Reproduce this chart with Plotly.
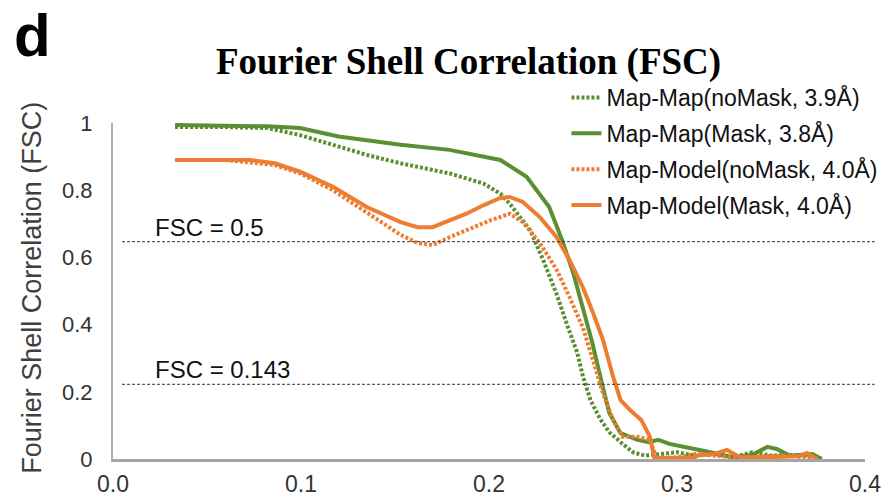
import plotly.graph_objects as go

# Spatial frequency (1/Å) and FSC values for each curve
mapmap_nomask_x = [0.033, 0.06, 0.082, 0.0995, 0.117, 0.135, 0.153, 0.170, 0.179, 0.197,
                   0.206, 0.211, 0.222, 0.229, 0.236, 0.2415, 0.247, 0.250, 0.254, 0.259,
                   0.264, 0.270, 0.2766, 0.283, 0.29, 0.30, 0.31, 0.32, 0.33, 0.34, 0.35,
                   0.36, 0.37, 0.377]
mapmap_nomask_y = [0.988, 0.988, 0.985, 0.964, 0.935, 0.905, 0.88, 0.86, 0.85, 0.82,
                   0.79, 0.76, 0.68, 0.59, 0.49, 0.40, 0.315, 0.245, 0.175, 0.12,
                   0.08, 0.05, 0.02, 0.01, 0.015, 0.02, 0.01, 0.015, 0.005, 0.02, 0.01,
                   0.012, 0.01, 0.0]

mapmap_mask_x = [0.033, 0.06, 0.082, 0.0995, 0.12, 0.153, 0.179, 0.206, 0.220, 0.232,
                 0.239, 0.245, 0.250, 0.255, 0.260, 0.264, 0.270, 0.279, 0.285, 0.290,
                 0.296, 0.303, 0.312, 0.322, 0.330, 0.340, 0.348, 0.353, 0.360, 0.365,
                 0.372, 0.377]
mapmap_mask_y = [0.994, 0.993, 0.99, 0.985, 0.96, 0.935, 0.92, 0.89, 0.84, 0.75,
                 0.65, 0.55, 0.45, 0.345, 0.226, 0.137, 0.077, 0.057, 0.05, 0.057,
                 0.045, 0.036, 0.027, 0.015, 0.005, 0.012, 0.036, 0.03, 0.01, 0.012,
                 0.015, 0.0]

mapmodel_nomask_x = [0.033, 0.06, 0.086, 0.0995, 0.117, 0.135, 0.153, 0.162, 0.170, 0.179,
                     0.190, 0.2005, 0.211, 0.218, 0.227, 0.236, 0.243, 0.250, 0.255, 0.2606,
                     0.266, 0.271, 0.279, 0.2856, 0.289, 0.30, 0.31, 0.32, 0.33, 0.34,
                     0.35, 0.36, 0.375]
mapmodel_nomask_y = [0.89, 0.89, 0.875, 0.85, 0.80, 0.735, 0.667, 0.643, 0.637, 0.66,
                     0.687, 0.71, 0.73, 0.705, 0.643, 0.563, 0.48, 0.39, 0.30, 0.196,
                     0.116, 0.066, 0.066, 0.057, 0.003, 0.005, 0.015, 0.01, 0.005, 0.005,
                     0.01, 0.01, 0.0]

mapmodel_mask_x = [0.033, 0.06, 0.073, 0.086, 0.0995, 0.117, 0.135, 0.153, 0.162, 0.170,
                   0.179, 0.188, 0.197, 0.206, 0.211, 0.218, 0.227, 0.236, 0.243, 0.250,
                   0.255, 0.2606, 0.266, 0.270, 0.275, 0.281, 0.2856, 0.288, 0.30, 0.3085,
                   0.312, 0.32, 0.3266, 0.3335, 0.348, 0.36, 0.365, 0.369, 0.3745]
mapmodel_mask_y = [0.89, 0.89, 0.89, 0.88, 0.855, 0.81, 0.75, 0.705, 0.69, 0.69,
                   0.71, 0.73, 0.755, 0.777, 0.78, 0.765, 0.72, 0.66, 0.59, 0.51,
                   0.44, 0.355, 0.245, 0.175, 0.146, 0.116, 0.066, 0.003, 0.003, 0.003,
                   0.012, 0.015, 0.027, 0.005, 0.005, 0.008, 0.008, 0.018, 0.0]

series_names = ["Map-Map(noMask, 3.9Å)", "Map-Map(Mask, 3.8Å)",
                "Map-Model(noMask, 4.0Å)", "Map-Model(Mask, 4.0Å)"]

# Threshold criteria and their labels
threshold_values = [0.5, 0.143]
threshold_labels = ["FSC = 0.5", "FSC = 0.143"]

x_tick_vals = [0.0, 0.1, 0.2, 0.3, 0.4]
x_tick_text = ["0.0", "0.1", "0.2", "0.3", "0.4"]
y_tick_vals = [0, 0.2, 0.4, 0.6, 0.8, 1.0]
y_tick_text = ["0", "0.2", "0.4", "0.6", "0.8", "1"]

GREEN = "#5b8f33"
ORANGE = "#ed7d31"
SANS = "Liberation Sans, Arial, sans-serif"

fig = go.Figure()
curves = [
    (mapmap_nomask_x, mapmap_nomask_y, GREEN, "3px,2px"),
    (mapmap_mask_x, mapmap_mask_y, GREEN, "solid"),
    (mapmodel_nomask_x, mapmodel_nomask_y, ORANGE, "3px,2px"),
    (mapmodel_mask_x, mapmodel_mask_y, ORANGE, "solid"),
]
for i, (name, (xs, ys, color, dash)) in enumerate(zip(series_names, curves)):
    fig.add_trace(go.Scatter(
        x=xs, y=ys, mode="lines", name=name, legendgroup=f"g{i}",
        line=dict(color=color, width=4, dash=dash),
    ))

# Threshold lines live on an overlaid criterion axis
for val, label in zip(threshold_values, threshold_labels):
    fig.add_shape(type="line", xref="paper", yref="y2",
                  x0=0.012, x1=1.013, y0=val, y1=val,
                  line=dict(color="#333333", width=1, dash="3px,2px"))
    fig.add_annotation(xref="paper", yref="y2", x=0.053, y=val,
                       text=label, showarrow=False, xanchor="left", yanchor="bottom",
                       yshift=-1, font=dict(family=SANS, size=24, color="#111111"))

fig.add_annotation(xref="paper", yref="paper", x=-0.108, y=0.509,
                   text="Fourier Shell Correlation (FSC)", textangle=-90,
                   showarrow=False, xanchor="center", yanchor="middle",
                   font=dict(family=SANS, size=27, color="#404040"))

fig.add_annotation(xref="paper", yref="paper", x=-0.133, y=1.364,
                   text="<b>d</b>", showarrow=False, xanchor="left", yanchor="top",
                   borderpad=0, font=dict(family=SANS, size=60, color="#000000"))

fig.update_layout(
    width=884, height=498,
    margin=dict(l=113, r=19, t=123, b=39, autoexpand=False),
    paper_bgcolor="white", plot_bgcolor="white",
    title=dict(text="<b>Fourier Shell Correlation (FSC)</b>",
               x=0.53, xanchor="center", y=0.878, yanchor="middle",
               font=dict(family="Liberation Serif, Times New Roman, serif", size=37, color="#000000")),
    xaxis=dict(range=[0, 0.4], tickvals=x_tick_vals, ticktext=x_tick_text,
               showgrid=False, zeroline=False, showline=True, linecolor="#a6a6a6",
               linewidth=3, ticks="", automargin=False, ticklabelstandoff=2,
               tickfont=dict(family=SANS, size=23, color="#333333")),
    yaxis=dict(range=[0, 1], tickvals=y_tick_vals, ticktext=y_tick_text,
               showgrid=False, zeroline=False, showline=True, linecolor="#b0b0b0",
               linewidth=2, ticks="", ticklabelstandoff=14, automargin=False,
               tickfont=dict(family=SANS, size=22, color="#333333")),
    yaxis2=dict(range=[-0.044, 0.7972], overlaying="y", visible=False, automargin=False),
    legend=dict(x=0.603, xanchor="left", y=1.14, yanchor="top",
                bgcolor="rgba(0,0,0,0)", font=dict(family=SANS, size=23, color="#111111"),
                itemwidth=30, tracegroupgap=3),
    showlegend=True,
)

fig.write_html("out.html")
